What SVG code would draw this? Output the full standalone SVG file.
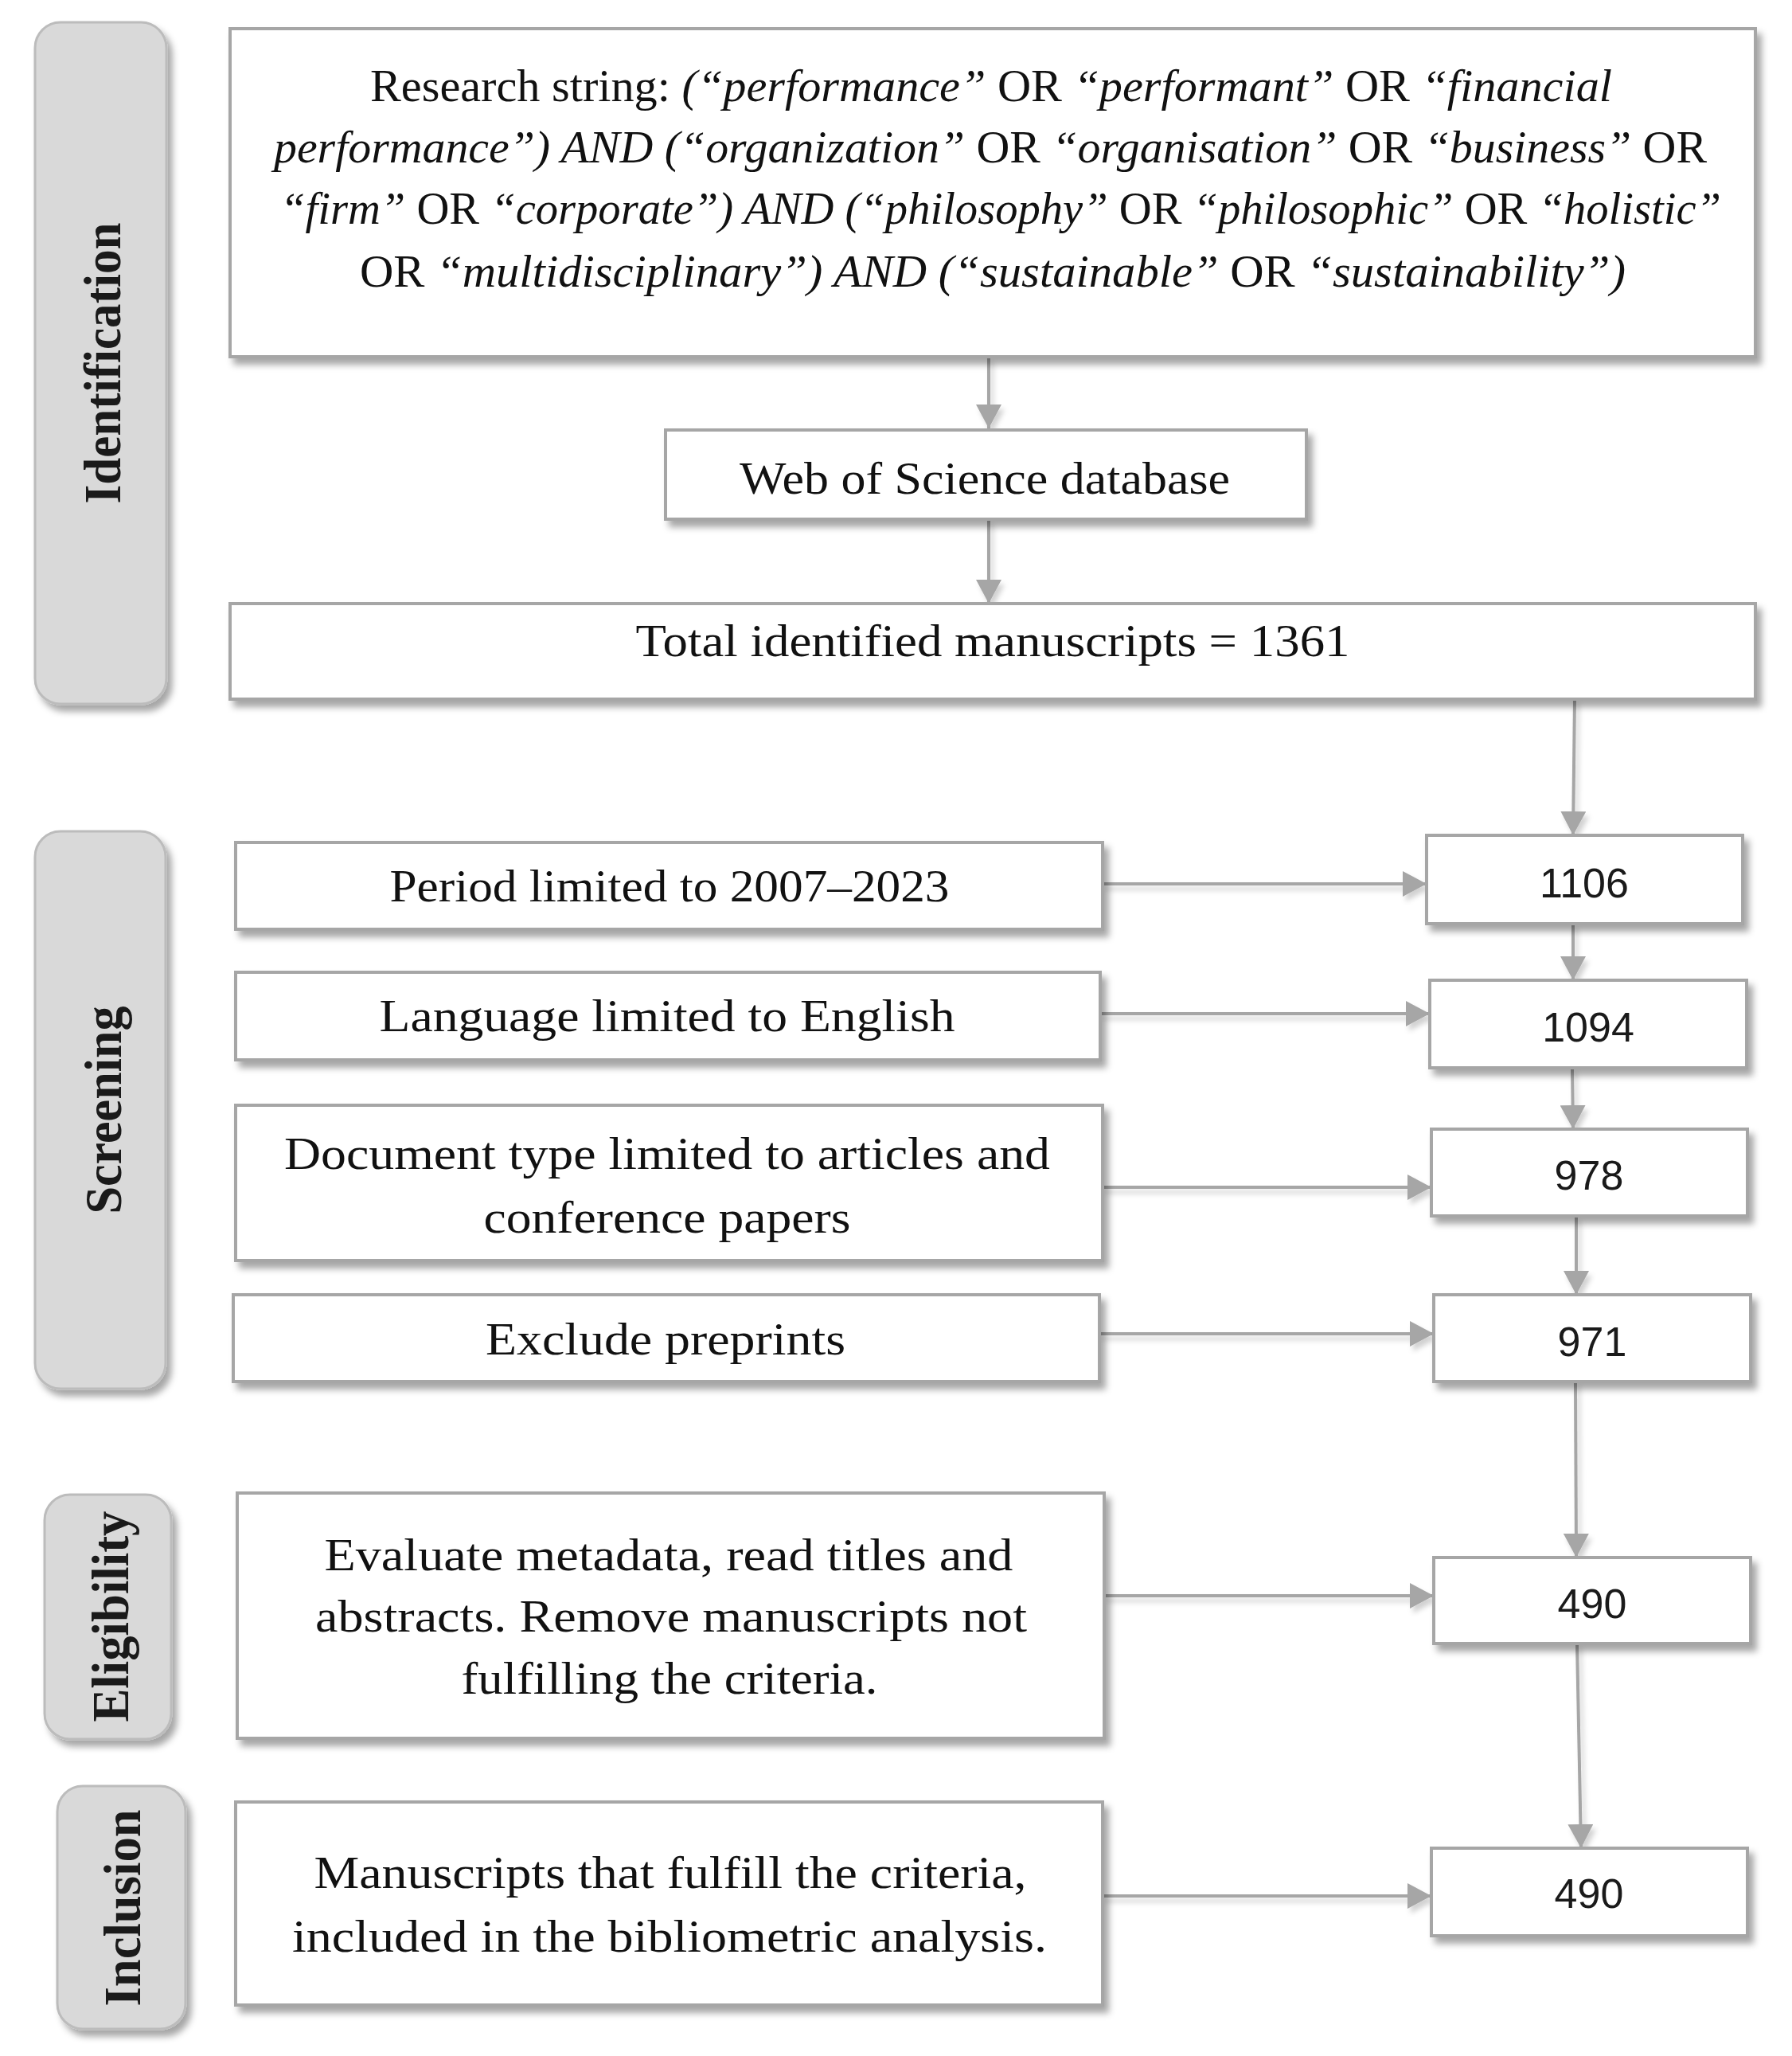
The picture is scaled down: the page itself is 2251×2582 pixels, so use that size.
<svg xmlns="http://www.w3.org/2000/svg" width="2251" height="2582" viewBox="0 0 2251 2582">
<style>
.box{fill:#ffffff;stroke:#a6a6a6;stroke-width:4;filter:url(#sh)}
.pill{fill:#d9d9d9;stroke:#bcbcbc;stroke-width:3;filter:url(#sh)}
.t{font-family:"Liberation Serif","Times New Roman",serif;font-size:57px;fill:#111;text-anchor:middle}
.it{font-style:italic}
.lab{font-family:"Liberation Serif","Times New Roman",serif;font-size:65px;font-weight:bold;fill:#1a1a1a;text-anchor:middle}
.num{font-family:"Liberation Sans",Arial,sans-serif;font-size:52px;fill:#1a1a1a;text-anchor:middle}
.c{fill:none;stroke:#a6a6a6;stroke-width:4;marker-end:url(#ah)}
</style>
<defs>
<filter id="sh" x="-10%" y="-10%" width="130%" height="140%">
<feDropShadow dx="6" dy="8" stdDeviation="4" flood-color="#000" flood-opacity="0.35"/>
</filter>
<filter id="sh2" filterUnits="userSpaceOnUse" x="0" y="0" width="2251" height="2582">
<feDropShadow dx="4" dy="6" stdDeviation="3" flood-color="#000" flood-opacity="0.18"/>
</filter>
<marker id="ah" viewBox="0 0 30 32" refX="30" refY="16" markerWidth="30" markerHeight="32" markerUnits="userSpaceOnUse" orient="auto">
<path d="M0,0 L30,16 L0,32 z" fill="#a6a6a6"/>
</marker>
</defs>
<rect width="2251" height="2582" fill="#ffffff"/>

<g id="connectors" filter="url(#sh2)">
<path class="c" d="M1242,448 L1242,538"/>
<path class="c" d="M1242,652 L1242,758"/>
<path class="c" d="M1978,878 L1976,1049"/>
<path class="c" d="M1385,1110 L1792,1110"/>
<path class="c" d="M1976,1160 L1976,1231"/>
<path class="c" d="M1382,1273 L1796,1273"/>
<path class="c" d="M1975,1341 L1976,1418"/>
<path class="c" d="M1385,1491 L1798,1491"/>
<path class="c" d="M1980,1527 L1980,1626"/>
<path class="c" d="M1381,1675 L1801,1675"/>
<path class="c" d="M1979,1735 L1980,1956"/>
<path class="c" d="M1387,2004 L1801,2004"/>
<path class="c" d="M1981,2064 L1986,2321"/>
<path class="c" d="M1385,2381 L1798,2381"/>
</g>

<g id="stage-identification">
<rect class="pill" x="44" y="28" width="165" height="856" rx="32"/>
<text class="lab" transform="translate(151,456) rotate(-90)" textLength="353" lengthAdjust="spacingAndGlyphs">Identification</text>
</g>
<g id="stage-screening">
<rect class="pill" x="44" y="1044" width="164" height="700" rx="32"/>
<text class="lab" transform="translate(152,1394) rotate(-90)" textLength="261" lengthAdjust="spacingAndGlyphs">Screening</text>
</g>
<g id="stage-eligibility">
<rect class="pill" x="56" y="1877" width="159" height="307" rx="32"/>
<text class="lab" transform="translate(161,2030) rotate(-90)" textLength="265" lengthAdjust="spacingAndGlyphs">Eligibility</text>
</g>
<g id="stage-inclusion">
<rect class="pill" x="72" y="2243" width="161" height="305" rx="32"/>
<text class="lab" transform="translate(176,2396) rotate(-90)" textLength="247" lengthAdjust="spacingAndGlyphs">Inclusion</text>
</g>

<g id="research-string">
<rect class="box" x="289" y="36" width="1916" height="412"/>
<text class="t" x="1245" y="127" textLength="1560" lengthAdjust="spacingAndGlyphs">Research string: <tspan class="it">(“performance”</tspan> OR <tspan class="it">“performant”</tspan> OR <tspan class="it">“financial</tspan></text>
<text class="t" x="1244" y="204" textLength="1800" lengthAdjust="spacingAndGlyphs"><tspan class="it">performance”) AND (“organization”</tspan> OR <tspan class="it">“organisation”</tspan> OR <tspan class="it">“business”</tspan> OR</text>
<text class="t" x="1257" y="281" textLength="1810" lengthAdjust="spacingAndGlyphs"><tspan class="it">“firm”</tspan> OR <tspan class="it">“corporate”) AND (“philosophy”</tspan> OR <tspan class="it">“philosophic”</tspan> OR <tspan class="it">“holistic”</tspan></text>
<text class="t" x="1247" y="360" textLength="1590" lengthAdjust="spacingAndGlyphs">OR <tspan class="it">“multidisciplinary”) AND (“sustainable”</tspan> OR <tspan class="it">“sustainability”)</tspan></text>
</g>

<g id="wos">
<rect class="box" x="836" y="540" width="805" height="112"/>
<text class="t" x="1237" y="620" textLength="616" lengthAdjust="spacingAndGlyphs">Web of Science database</text>
</g>

<g id="total">
<rect class="box" x="289" y="758" width="1916" height="120"/>
<text class="t" x="1247" y="824" textLength="897" lengthAdjust="spacingAndGlyphs">Total identified manuscripts = 1361</text>
</g>

<g id="period">
<rect class="box" x="296" y="1058" width="1089" height="109"/>
<text class="t" x="841" y="1132" textLength="703" lengthAdjust="spacingAndGlyphs">Period limited to 2007–2023</text>
</g>
<g id="language">
<rect class="box" x="296" y="1221" width="1086" height="110"/>
<text class="t" x="838" y="1295" textLength="723" lengthAdjust="spacingAndGlyphs">Language limited to English</text>
</g>
<g id="document">
<rect class="box" x="296" y="1388" width="1089" height="195"/>
<text class="t" x="838" y="1468" textLength="962" lengthAdjust="spacingAndGlyphs">Document type limited to articles and</text>
<text class="t" x="838" y="1548" textLength="461" lengthAdjust="spacingAndGlyphs">conference papers</text>
</g>
<g id="exclude">
<rect class="box" x="293" y="1626" width="1088" height="109"/>
<text class="t" x="836" y="1701" textLength="452" lengthAdjust="spacingAndGlyphs">Exclude preprints</text>
</g>
<g id="evaluate">
<rect class="box" x="298" y="1875" width="1089" height="308"/>
<text class="t" x="840" y="1972" textLength="865" lengthAdjust="spacingAndGlyphs">Evaluate metadata, read titles and</text>
<text class="t" x="843" y="2049" textLength="894" lengthAdjust="spacingAndGlyphs">abstracts. Remove manuscripts not</text>
<text class="t" x="841" y="2127" textLength="523" lengthAdjust="spacingAndGlyphs">fulfilling the criteria.</text>
</g>
<g id="included">
<rect class="box" x="296" y="2263" width="1089" height="255"/>
<text class="t" x="842" y="2371" textLength="895" lengthAdjust="spacingAndGlyphs">Manuscripts that fulfill the criteria,</text>
<text class="t" x="841" y="2451" textLength="948" lengthAdjust="spacingAndGlyphs">included in the bibliometric analysis.</text>
</g>

<g id="n1106">
<rect class="box" x="1792" y="1049" width="397" height="111"/>
<text class="num" x="1990" y="1127">1106</text>
</g>
<g id="n1094">
<rect class="box" x="1796" y="1231" width="398" height="110"/>
<text class="num" x="1995" y="1308">1094</text>
</g>
<g id="n978">
<rect class="box" x="1798" y="1418" width="397" height="109"/>
<text class="num" x="1996" y="1494">978</text>
</g>
<g id="n971">
<rect class="box" x="1801" y="1626" width="398" height="109"/>
<text class="num" x="2000" y="1703">971</text>
</g>
<g id="n490a">
<rect class="box" x="1801" y="1956" width="398" height="108"/>
<text class="num" x="2000" y="2032">490</text>
</g>
<g id="n490b">
<rect class="box" x="1798" y="2321" width="397" height="110"/>
<text class="num" x="1996" y="2396">490</text>
</g>
</svg>
